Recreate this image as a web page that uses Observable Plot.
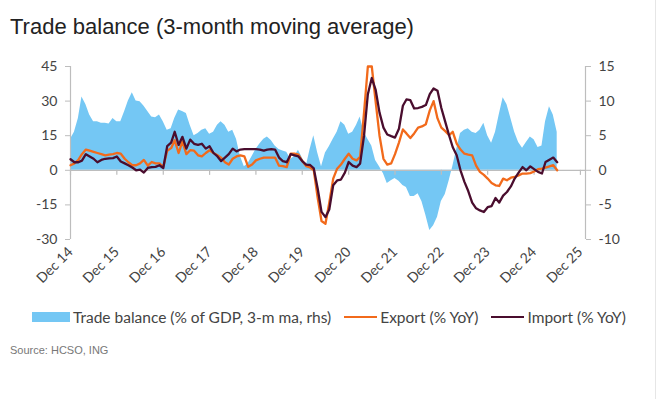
<!DOCTYPE html>
<html>
<head>
<meta charset="utf-8">
<script src="https://cdn.jsdelivr.net/npm/d3@7"></script>
<script src="https://cdn.jsdelivr.net/npm/@observablehq/plot@0.6"></script>
<style>
  html, body { margin: 0; padding: 0; background: #fff; }
  body { width: 657px; height: 399px; position: relative; overflow: hidden; font-family: Lato, "Open Sans", sans-serif; }
  #title { position: absolute; left: 10px; top: 14px; font-family: "Liberation Sans", Arial, sans-serif; font-size: 22px; color: #222; white-space: nowrap; }
  #chart { position: absolute; left: 0; top: 50px; }
  #legend { position: absolute; left: 32px; top: 308px; display: flex; align-items: center; font-size: 15.5px; color: #444; white-space: nowrap; }
  .sw { display: inline-block; margin-right: 3px; }
  .item { display: flex; align-items: center; margin-right: 13px; }
  #source { position: absolute; left: 10px; top: 344px; font-size: 11px; color: #777; font-family: "Liberation Sans", Arial, sans-serif; }
  #edge { position: absolute; left: 655px; top: 0; width: 1px; height: 399px; background: #e6e6e6; }
</style>
</head>
<body>
<div id="title">Trade balance (3-month moving average)</div>
<div id="chart"></div>
<div id="legend">
  <div class="item"><span class="sw" style="width:38px;height:10px;background:#74c7f4"></span>Trade balance (% of GDP, 3-m ma, rhs)</div>
  <div class="item"><span class="sw" style="width:33px;height:2.5px;background:#f26a1b"></span>Export (% YoY)</div>
  <div class="item"><span class="sw" style="width:33px;height:2.5px;background:#4a0d2e"></span>Import (% YoY)</div>
</div>
<div id="source">Source: HCSO, ING</div>
<div id="edge"></div>
<script>
// Monthly data, first value = Dec 2014
const startYear = 2014, startMonth = 11;

// Trade balance, % of GDP, 3-m ma (right-hand scale)
const tradeBalance = [
  4.5, 5.5, 7.5, 10.6, 9.5, 8, 7, 7, 6.8, 6.8,
  6.7, 7.5, 7, 7, 8.5, 10, 11.2, 10, 9.9, 9.3,
  8.5, 7.7, 7.6, 8, 7, 5.8, 6, 7.5, 8.7, 8.5,
  8.2, 6.5, 5, 5.3, 5.8, 6, 5.2, 5.5, 6.5, 7,
  6.5, 5.5, 5.8, 4.5, 2, 0.5, 1, 2, 3, 3.8,
  4.5, 4.8, 4.3, 3.5, 3, 2.8, 2.6, 1.6, 2, 2.9,
  1.8, 0.5, 3, 5, 2.5, 0.5, 2.5, 3.4, 4.5, 5.5,
  7, 6.5, 5.2, 5.5, 6.5, 7.7, 5.5, 4.5, 3.5, 1.4,
  0.5, -0.5, -1.9, -1.5, -1.2, -1.6, -2.2, -2.5, -3.8, -3.8,
  -3.4, -4.5, -6.5, -8.7, -8, -6.8, -4.5, -3.5, -1.5, 0.5,
  3, 5.3, 5.8, 6, 5.5, 5.3, 5.8, 6.8, 5, 3.9,
  5.5, 8, 10.5, 9.5, 7.5, 5.5, 4, 3.2, 4, 4.8,
  4.4, 3.3, 3.5, 7, 9.2, 8, 5.5
];

// Export, % YoY (left scale)
const exportYoY = [
  2.2, 3, 4.5, 7, 9, 8.5, 8, 7.5, 7, 6.5,
  6.8, 7, 7.5, 7.2, 5, 3.5, 2.2, 2.2, 3, 4.5,
  2, 3.6, 3, 3, 1.4, 8.5, 9.6, 13, 7.5, 12.5,
  7, 8.7, 8.5, 6.5, 6, 7.5, 8.7, 7.5, 6.5, 5.5,
  3.5, 2.5, 5, 6, 6.5, 6, 1.5, 2.5, 4.3, 5,
  5.5, 5.5, 5.5, 5.5, 2, 1.8, 1.4, 7.2, 7.2, 6.8,
  4, 1.8, 1.2, 0, -12, -22, -23.2, -14, -3.6, 0.7,
  2.5, 5, 7.2, 5, 4.3, 5.8, 25, 45, 45, 30,
  15, 5, 2.5, 3, 7, 12, 17.7, 16, 14, 16,
  18.5, 19, 20, 26, 30, 22.5, 18.5, 17, 15.2, 16.7,
  11.6, 9, 7.2, 6.8, 6.5, 2, -0.7, -2, -3.6, -5.5,
  -6.5, -6.8, -3.6, -4.3, -3.2, -2.9, -2.2, -1.4, -1.4, -1.2,
  -0.5, 0.5, 0.7, 1.2, 1.7, 2.2, 0
];

// Import, % YoY (left scale)
const importYoY = [
  4.8, 3.5, 3.5, 4.2, 7, 6, 5, 3.5, 4.5, 5,
  5.2, 5.3, 6, 3.8, 3, 2.2, 1.2, 0, 0.3, -1,
  1, 1.4, 1.5, 2.2, 1, 10.5, 12, 16.7, 11, 14.5,
  9.4, 13.3, 11.5, 11, 11.5, 9.4, 10.4, 7.5, 6, 4,
  5.5, 7, 9.4, 8.2, 9, 9.2, 9.2, 9.2, 9.2, 9,
  8.5, 9, 9.2, 9, 5.5, 4, 3.5, 7, 6.5, 6,
  4, 2.5, 2.3, 0.8, -8, -18, -20.3, -17, -6.5, -4.4,
  -4, -1, 3.6, 2, 1.4, 2.9, 15, 33, 40, 35,
  25, 18.5, 15.5, 14.8, 14.2, 18, 28, 30.7, 30.4, 26.8,
  27, 27.5, 28.3, 33, 35.5, 34.5, 27, 21, 15, 10,
  6.5, 0, -5, -9, -14, -16.5, -17.4, -18.1, -16, -15.5,
  -12, -14, -11, -9.4, -7, -3.6, -1, 1.4, 0, 1.7,
  0.5, -0.7, -1.4, 3.6, 4.6, 5.5, 3.5
];

const yTicksLeft = [-30, -15, 0, 15, 30, 45];
const yTicksRight = [-10, -5, 0, 5, 10, 15];
const xTickLabels = ["Dec 14", "Dec 15", "Dec 16", "Dec 17", "Dec 18", "Dec 19", "Dec 20", "Dec 21", "Dec 22", "Dec 23", "Dec 24", "Dec 25"];

const rhsFactor = yTicksLeft[yTicksLeft.length - 1] / yTicksRight[yTicksRight.length - 1]; // 3

const start = new Date(Date.UTC(startYear, startMonth, 1));
const data = tradeBalance.map((tb, i) => ({
  date: d3.utcMonth.offset(start, i),
  tb, exp: exportYoY[i], imp: importYoY[i]
}));

const tickDates = xTickLabels.map(s => new Date(Date.UTC(2000 + +s.slice(4), 11, 1)));
const tickLabelMap = new Map(tickDates.map((d, i) => [+d, xTickLabels[i]]));
const xDomain = [tickDates[0], d3.utcDay.offset(tickDates[tickDates.length - 1], 40)];
const rightMap = new Map(yTicksLeft.map((v, i) => [v, yTicksRight[i]]));

const axisGrey = "#bdbdbd";
const textColor = "#444";

const chart = Plot.plot({
  width: 657,
  height: 244,
  marginTop: 16,
  marginBottom: 55,
  marginLeft: 70,
  marginRight: 72,
  style: { fontFamily: "Lato, 'Open Sans', sans-serif", fontSize: "14px", color: textColor, background: "transparent" },
  x: { type: "utc", domain: xDomain },
  y: { domain: [yTicksLeft[0], yTicksLeft[yTicksLeft.length - 1]] },
  marks: [
    Plot.areaY(data, { x: "date", y: d => d.tb * rhsFactor, fill: "#74c7f4", curve: "linear" }),
    Plot.ruleY([0], { stroke: axisGrey, strokeWidth: 1.2 }),
    Plot.ruleX([xDomain[0]], { stroke: axisGrey, strokeWidth: 1.2 }),
    Plot.ruleX([xDomain[1]], { stroke: axisGrey, strokeWidth: 1.2 }),
    Plot.ruleX(tickDates, { x: d => d, y1: 0, y2: -2.2, stroke: axisGrey, strokeWidth: 1.2 }),
    Plot.lineY(data, { x: "date", y: "exp", stroke: "#f26a1b", strokeWidth: 2.3 }),
    Plot.lineY(data, { x: "date", y: "imp", stroke: "#4a0d2e", strokeWidth: 2.3 }),
    Plot.axisY({ anchor: "left", ticks: yTicksLeft, tickFormat: d => String(d), tickSize: 5, tickPadding: 8, stroke: axisGrey, fill: textColor, label: null }),
    Plot.axisY({ anchor: "right", ticks: yTicksLeft, tickFormat: d => String(rightMap.get(d)), tickSize: 5, tickPadding: 8, stroke: axisGrey, fill: textColor, label: null }),
    Plot.axisX({ ticks: tickDates, tickFormat: d => tickLabelMap.get(+d), tickRotate: -45, tickSize: 0, tickPadding: 10, fill: textColor, label: null })
  ]
});
document.getElementById("chart").appendChild(chart);
</script>
</body>
</html>
